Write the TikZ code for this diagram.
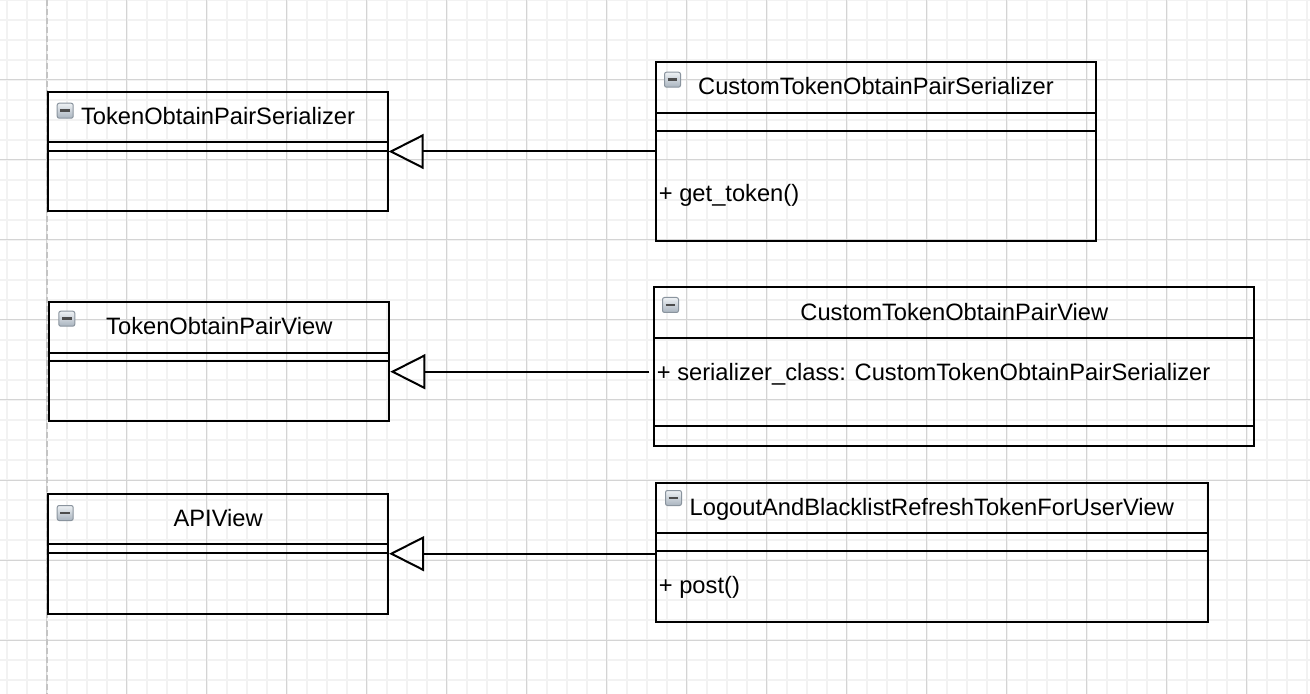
\documentclass[tikz,border=0pt]{standalone}
\usepackage{fontspec}
\setmainfont{Liberation Sans}
\usetikzlibrary{arrows.meta}

\definecolor{gridminor}{HTML}{F2F2F2}
\definecolor{gridmajor}{HTML}{D4D4D4}
\definecolor{pageedge}{HTML}{C4C4C4}
\definecolor{iconrim}{HTML}{8A949E}
\definecolor{icontop}{HTML}{EEF1F4}
\definecolor{iconbot}{HTML}{A9B4BF}

\begin{document}
\begin{tikzpicture}[x = 0.5pt, y = -0.5pt,
  font = \fontsize{11.85}{14}\selectfont,
  cls/.style = {draw, line width = 1pt, anchor = north west, inner sep = 0pt},
  clsname/.style = {anchor = base, inner sep = 0pt},
  member/.style = {anchor = base west, inner sep = 0pt},
  divider/.style = {line width = 1pt},
  collapse/.style = {draw = iconrim, line width = 0.5pt, rounded corners = 1pt,
    top color = icontop, bottom color = iconbot, anchor = north west,
    minimum width = 8pt, minimum height = 7.5pt, inner sep = 0pt,
    path picture = {\draw[line width = 1.4pt, color = black!70]
      ([xshift = 1.6pt]path picture bounding box.west) --
      ([xshift = -1.6pt]path picture bounding box.east);}},
  extends/.style = {line width = 1pt, -{Triangle[open, length = 17.5pt, width = 17.5pt]}}]
\useasboundingbox (0, 0) rectangle (1310, 694);
\fill[white] (0, 0) rectangle (1310, 694);
% background grid
\foreach \gx in {6.7, 26.7, ..., 1310} \draw[line width = 1pt, color = gridminor] (\gx, 0) -- (\gx, 694);
\foreach \gy in {0, 20, ..., 694} \draw[line width = 1pt, color = gridminor] (0, \gy) -- (1310, \gy);
\foreach \gx in {46.7, 126.7, ..., 1310} \draw[line width = 0.5pt, color = gridmajor] (\gx, 0) -- (\gx, 694);
\foreach \gy in {80, 160, ..., 694} \draw[line width = 0.5pt, color = gridmajor] (0, \gy) -- (1310, \gy);
\draw[line width = 1pt, color = pageedge, dash pattern = on 3pt off 1.5pt] (46.7, 0) -- (46.7, 694);

% base classes
\node[cls, minimum width = 169.7pt, minimum height = 59.5pt] (tos) at (47.3, 91) {};
\node[cls, minimum width = 170pt, minimum height = 59.5pt] (topv) at (48.3, 301) {};
\node[cls, minimum width = 169.9pt, minimum height = 60pt] (api) at (47.3, 492.7) {};
% derived classes
\node[cls, minimum width = 220pt, minimum height = 89.5pt] (ctos) at (655, 61) {};
\node[cls, minimum width = 300pt, minimum height = 79.7pt] (ctopv) at (653.3, 285.7) {};
\node[cls, minimum width = 276pt, minimum height = 69.5pt] (logout) at (654.8, 481.7) {};

\draw[divider] (tos.west |- 0, 142) -- (tos.east |- 0, 142);
\draw[divider] (tos.west |- 0, 150.7) -- (tos.east |- 0, 150.7);
\draw[divider] (topv.west |- 0, 352.7) -- (topv.east |- 0, 352.7);
\draw[divider] (topv.west |- 0, 360.7) -- (topv.east |- 0, 360.7);
\draw[divider] (api.west |- 0, 544.3) -- (api.east |- 0, 544.3);
\draw[divider] (api.west |- 0, 552.7) -- (api.east |- 0, 552.7);
\draw[divider] (ctos.west |- 0, 112.7) -- (ctos.east |- 0, 112.7);
\draw[divider] (ctos.west |- 0, 131) -- (ctos.east |- 0, 131);
\draw[divider] (ctopv.west |- 0, 338.3) -- (ctopv.east |- 0, 338.3);
\draw[divider] (ctopv.west |- 0, 425.7) -- (ctopv.east |- 0, 425.7);
\draw[divider] (logout.west |- 0, 532.7) -- (logout.east |- 0, 532.7);
\draw[divider] (logout.west |- 0, 550.7) -- (logout.east |- 0, 550.7);

\node[collapse] (tosicon) at (56.7, 102.7) {};
\node[collapse] (topvicon) at (58.3, 310.7) {};
\node[collapse] (apiicon) at (56.7, 505) {};
\node[collapse] (ctosicon) at (664, 71.7) {};
\node[collapse] (ctopvicon) at (662, 297) {};
\node[collapse] (logouticon) at (665, 490) {};

\node[clsname] (tosname) at (tos.north |- 0, 125) {TokenObtainPairSerializer};
\node[clsname] (topvname) at (topv.north |- 0, 335) {TokenObtainPairView};
\node[clsname] (apiname) at (api.north |- 0, 526.7) {APIView};
\node[clsname] (ctosname) at (ctos.north |- 0, 95) {CustomTokenObtainPairSerializer};
\node[clsname] (ctopvname) at (ctopv.north |- 0, 320.7) {CustomTokenObtainPairView};
\node[clsname] (logoutname) at (logout.north |- 0, 515.5) {LogoutAndBlacklistRefreshTokenForUserView};

\node[member] (ctosop) at (658.5, 201.7) {+ get\_token()};
\node[member] (ctopvattr) at (656.5, 381) {+ serializer\_class: CustomTokenObtainPairSerializer};
\node[member] (logoutop) at (658.5, 593) {+ post()};

% generalisation
\draw[extends] (ctos.west |- tos.east) -- (tos.east);
\coordinate (viewlink) at (649.3, 371.7);
\draw[extends] (viewlink) -- (topv.east |- viewlink);
\draw[extends] (logout.west |- api.east) -- (api.east);
\end{tikzpicture}
\end{document}
